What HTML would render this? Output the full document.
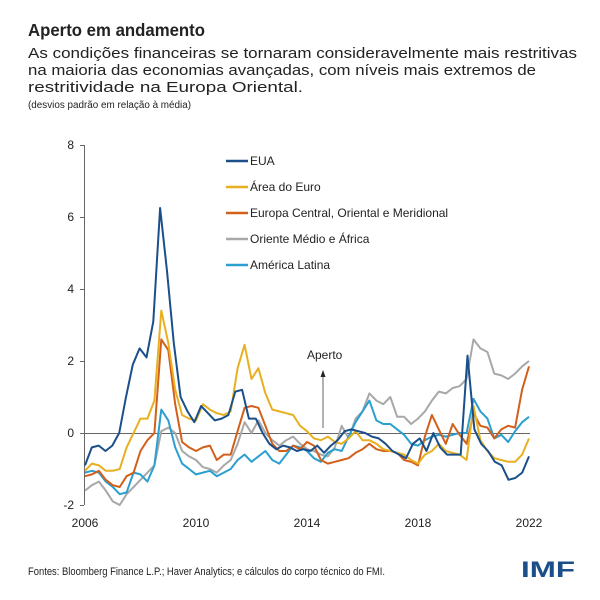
<!DOCTYPE html>
<html><head><meta charset="utf-8"><style>body{margin:0;background:#fff}svg{display:block}</style></head>
<body>
<svg id="s" width="600" height="600" xmlns="http://www.w3.org/2000/svg" font-family="Liberation Sans, sans-serif" fill="#222">
<rect width="600" height="600" fill="#fff"/>
<text x="28" y="36" font-size="17.5" font-weight="bold" textLength="177" lengthAdjust="spacingAndGlyphs">Aperto em andamento</text>
<text x="28" y="58" font-size="14.5" textLength="549" lengthAdjust="spacingAndGlyphs">As condições financeiras se tornaram consideravelmente mais restritivas</text>
<text x="28" y="75" font-size="14.5" textLength="508" lengthAdjust="spacingAndGlyphs">na maioria das economias avançadas, com níveis mais extremos de</text>
<text x="28" y="92" font-size="14.5" textLength="275" lengthAdjust="spacingAndGlyphs">restritividade na Europa Oriental.</text>
<text x="28" y="108" font-size="10" textLength="163" lengthAdjust="spacingAndGlyphs">(desvios padrão em relação à média)</text>
<g font-size="12" fill="#222" text-anchor="end">
<text x="74" y="149">8</text><text x="74" y="221">6</text><text x="74" y="293">4</text><text x="74" y="365">2</text><text x="74" y="437">0</text><text x="74" y="509">-2</text>
</g>
<g font-size="12" text-anchor="middle">
<text x="85" y="527">2006</text><text x="196" y="527">2010</text><text x="307" y="527">2014</text><text x="418" y="527">2018</text><text x="529" y="527">2022</text>
</g>
<g stroke="#666" stroke-width="1">
<line x1="84.5" y1="145" x2="84.5" y2="505"/>
<line x1="80" y1="145.5" x2="84" y2="145.5"/><line x1="80" y1="217.5" x2="84" y2="217.5"/><line x1="80" y1="289.5" x2="84" y2="289.5"/><line x1="80" y1="361.5" x2="84" y2="361.5"/><line x1="80" y1="433.5" x2="84" y2="433.5"/><line x1="80" y1="505.5" x2="84" y2="505.5"/>
<line x1="85" y1="433.5" x2="530" y2="433.5"/>
<line x1="323" y1="428" x2="323" y2="375"/>
</g>
<polygon points="323,370 320.5,377 325.5,377" fill="#222"/>
<text x="307" y="359" font-size="12">Aperto</text>
<g id="lines" fill="none" stroke-width="2" stroke-linejoin="round"></g>
<g font-size="12">
<line x1="226" y1="161" x2="248" y2="161" stroke="#1b4f8a" stroke-width="2.5"/><text x="250" y="165">EUA</text>
<line x1="226" y1="187" x2="248" y2="187" stroke="#e8b020" stroke-width="2.5"/><text x="250" y="191">Área do Euro</text>
<line x1="226" y1="213" x2="248" y2="213" stroke="#d2601a" stroke-width="2.5"/><text x="250" y="217">Europa Central, Oriental e Meridional</text>
<line x1="226" y1="239" x2="248" y2="239" stroke="#a8a8a8" stroke-width="2.5"/><text x="250" y="243">Oriente Médio e África</text>
<line x1="226" y1="265" x2="248" y2="265" stroke="#2a9fd0" stroke-width="2.5"/><text x="250" y="269">América Latina</text>
</g>
<text x="28" y="575" font-size="11" textLength="357" lengthAdjust="spacingAndGlyphs">Fontes: Bloomberg Finance L.P.; Haver Analytics; e cálculos do corpo técnico do FMI.</text>
<text x="521" y="577" font-size="22" font-weight="bold" fill="#1b4f8a" textLength="54" lengthAdjust="spacingAndGlyphs">IMF</text>
</svg>
<script>
var S=[
["#a8a8a8",[-1.6,-1.45,-1.35,-1.6,-1.9,-2.0,-1.7,-1.5,-1.3,-1.1,-0.9,0.05,0.15,0.0,-0.5,-0.65,-0.75,-0.95,-1.0,-1.1,-0.9,-0.75,-0.3,0.3,0.0,0.35,0.0,-0.2,-0.35,-0.2,-0.1,-0.3,-0.45,-0.5,-0.6,-0.65,-0.4,0.2,-0.15,0.4,0.6,1.1,0.9,0.8,1.0,0.45,0.45,0.25,0.4,0.6,0.9,1.15,1.1,1.25,1.3,1.5,2.6,2.35,2.25,1.65,1.6,1.5,1.65,1.85,2.0]],
["#2a9fd0",[-1.1,-1.05,-1.1,-1.35,-1.5,-1.7,-1.65,-1.1,-1.15,-1.35,-0.9,0.65,0.35,-0.4,-0.85,-1.0,-1.15,-1.1,-1.05,-1.2,-1.1,-1.0,-0.75,-0.6,-0.8,-0.65,-0.5,-0.75,-0.85,-0.6,-0.35,-0.4,-0.5,-0.7,-0.8,-0.55,-0.45,-0.5,-0.1,0.3,0.6,0.9,0.35,0.25,0.25,0.1,-0.05,-0.3,-0.35,-0.2,-0.1,-0.05,-0.1,-0.05,0.0,0.0,0.95,0.6,0.4,-0.15,-0.05,-0.25,0.05,0.3,0.45]],
["#d2601a",[-1.2,-1.15,-1.05,-1.3,-1.45,-1.5,-1.2,-1.1,-0.5,-0.2,0.0,2.6,2.3,0.8,-0.25,-0.4,-0.5,-0.4,-0.35,-0.75,-0.6,-0.6,0.05,0.7,0.75,0.7,0.2,-0.3,-0.5,-0.5,-0.35,-0.45,-0.25,-0.35,-0.75,-0.85,-0.8,-0.75,-0.7,-0.55,-0.45,-0.3,-0.45,-0.5,-0.5,-0.55,-0.75,-0.8,-0.9,-0.1,0.5,0.1,-0.3,0.25,-0.05,-0.3,0.55,0.2,0.15,-0.15,0.1,0.2,0.15,1.2,1.85]],
["#e8b020",[-1.05,-0.85,-0.9,-1.05,-1.05,-1.0,-0.4,0.0,0.4,0.4,0.9,3.4,2.5,1.2,0.5,0.4,0.35,0.8,0.65,0.55,0.5,0.6,1.8,2.45,1.5,1.8,1.1,0.65,0.6,0.55,0.5,0.2,0.05,-0.15,-0.2,-0.1,-0.25,-0.3,-0.15,0.05,-0.2,-0.2,-0.3,-0.45,-0.5,-0.55,-0.6,-0.75,-0.85,-0.6,-0.5,-0.3,-0.5,-0.55,-0.6,-0.75,0.75,-0.2,-0.5,-0.7,-0.75,-0.8,-0.8,-0.6,-0.15]],
["#1b4f8a",[-0.9,-0.4,-0.35,-0.5,-0.35,0.0,1.0,1.9,2.35,2.1,3.1,6.25,4.5,2.5,1.0,0.6,0.3,0.75,0.55,0.35,0.4,0.5,1.15,1.2,0.4,0.4,0.0,-0.3,-0.45,-0.35,-0.4,-0.5,-0.45,-0.5,-0.35,-0.55,-0.35,-0.2,0.05,0.1,0.05,0.0,-0.1,-0.15,-0.3,-0.5,-0.6,-0.7,-0.3,-0.15,-0.5,0.0,-0.4,-0.6,-0.6,-0.6,2.15,0.1,-0.3,-0.5,-0.8,-0.9,-1.3,-1.25,-1.1,-0.65]]
];
var g=document.getElementById("lines");
S.forEach(function(s){var v=s[1],n=v.length,p=[];for(var i=0;i<n;i++){p.push((85+444*i/(n-1)).toFixed(1)+","+(433-36*v[i]).toFixed(1));}
var e=document.createElementNS("http://www.w3.org/2000/svg","polyline");e.setAttribute("points",p.join(" "));e.setAttribute("stroke",s[0]);g.appendChild(e);});
</script>
</body></html>
